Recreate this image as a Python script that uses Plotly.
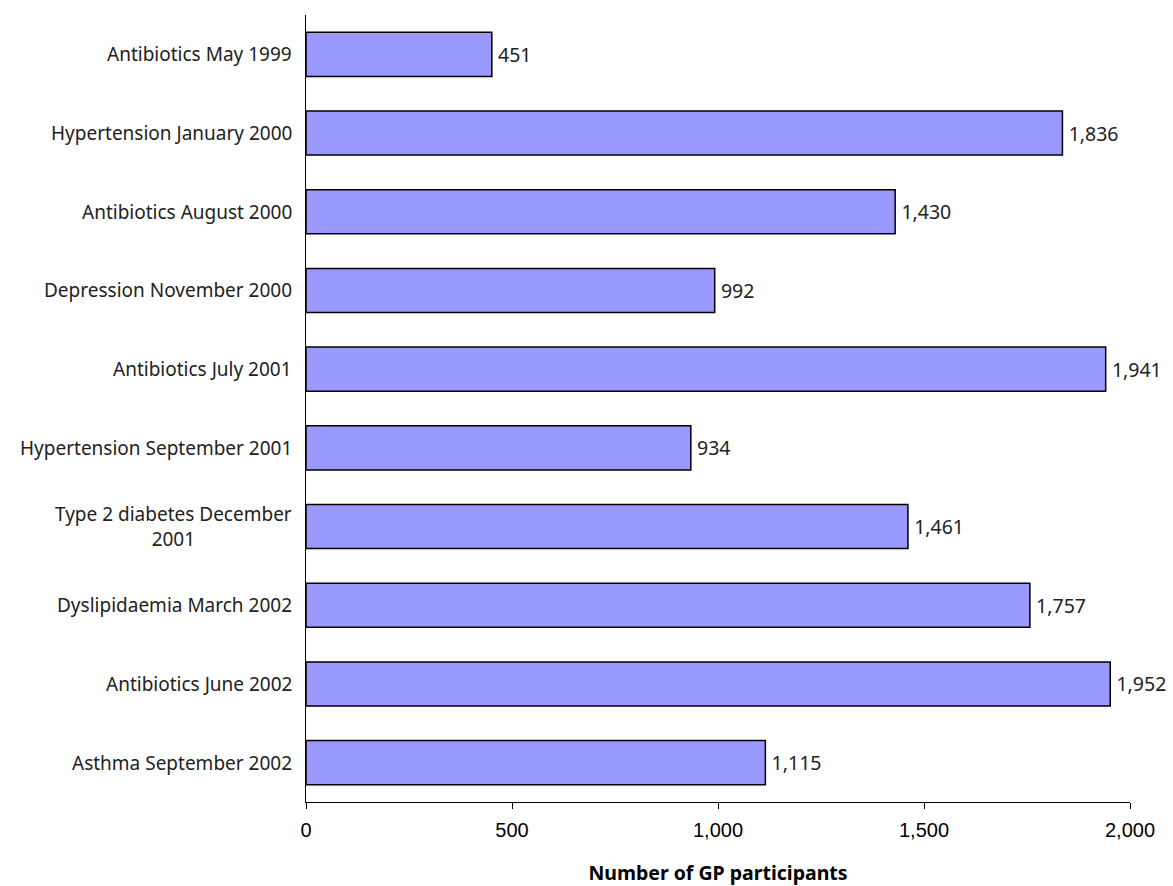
import plotly.graph_objects as go

# Survey rounds and the number of GP participants in each
rounds = [
    "Antibiotics May 1999",
    "Hypertension January 2000",
    "Antibiotics August 2000",
    "Depression November 2000",
    "Antibiotics July 2001",
    "Hypertension September 2001",
    "Type 2 diabetes December<br>2001",
    "Dyslipidaemia March 2002",
    "Antibiotics June 2002",
    "Asthma September 2002",
]
participants = [451, 1836, 1430, 992, 1941, 934, 1461, 1757, 1952, 1115]

x_ticks = [0, 500, 1000, 1500, 2000]
x_tick_labels = ["0", "500", "1,000", "1,500", "2,000"]

LABEL_FONT = "Noto Sans"
TICK_FONT = "Liberation Sans"

fig = go.Figure(
    go.Bar(
        y=list(range(len(rounds))),
        x=participants,
        orientation="h",
        width=0.56,
        marker=dict(color="#9999FF", line=dict(color="#000000", width=1.5)),
        text=participants,
        texttemplate="\u2009%{x:,}",
        textposition="outside",
        textfont=dict(family=LABEL_FONT, size=19.5, color="#222222"),
        cliponaxis=False,
        hoverinfo="skip",
    )
)

# Category labels drawn as centred annotations so wrapped names stay centred
for i, name in enumerate(rounds):
    fig.add_annotation(
        x=0, xref="paper", y=i, yref="y",
        text=name, showarrow=False,
        xanchor="right", yanchor="middle", align="center",
        xshift=-12,
        font=dict(family=LABEL_FONT, size=19, color="#222222"),
    )

fig.update_layout(
    width=1173, height=886,
    margin=dict(l=306, r=43, t=15, b=84, autoexpand=False),
    paper_bgcolor="white", plot_bgcolor="white",
    showlegend=False,
    xaxis=dict(
        range=[0, 2000],
        automargin=False,
        tickvals=x_ticks, ticktext=x_tick_labels,
        ticks="outside", ticklen=6, tickcolor="#000000", tickwidth=1,
        ticklabelstandoff=4,
        showline=True, linecolor="#000000", linewidth=1,
        showgrid=False, zeroline=False,
        tickfont=dict(family=TICK_FONT, size=20, color="#000000"),
        title=dict(
            text="<b>Number of GP participants</b>",
            font=dict(family=LABEL_FONT, size=19.5, color="#000000"),
            standoff=29,
        ),
    ),
    yaxis=dict(
        range=[len(rounds) - 0.5, -0.5],
        automargin=False,
        showticklabels=False, ticks="",
        showline=True, linecolor="#000000", linewidth=1,
        showgrid=False, zeroline=False,
    ),
)

fig.write_html("out.html")
